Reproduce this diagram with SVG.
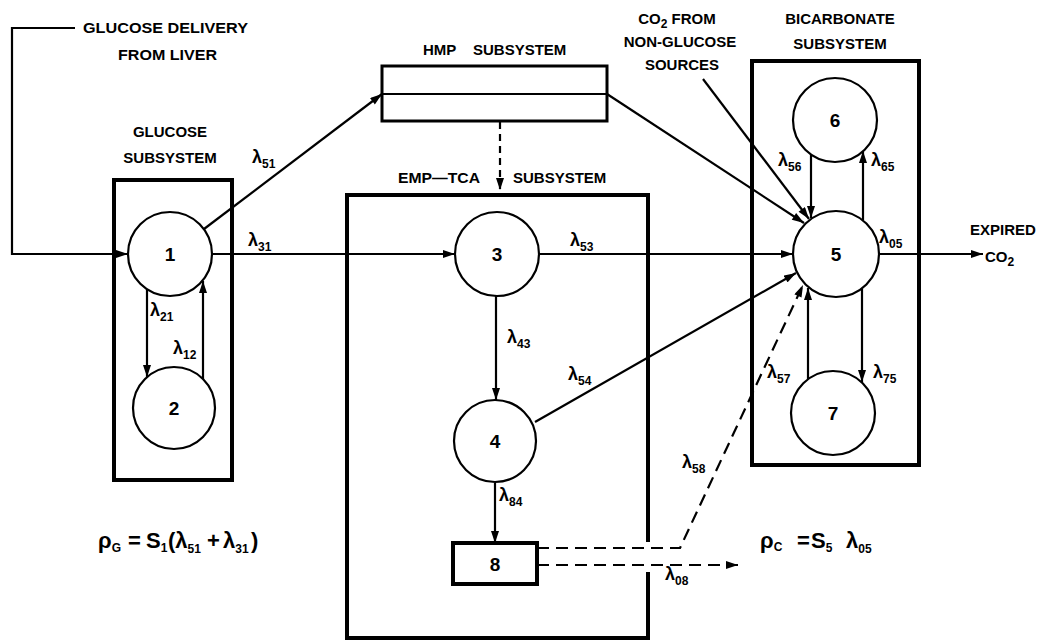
<svg xmlns="http://www.w3.org/2000/svg" width="1037" height="640" viewBox="0 0 1037 640">
<defs>
<marker id="ah" viewBox="0 0 12 8" refX="12" refY="4" markerWidth="13" markerHeight="8" markerUnits="userSpaceOnUse" orient="auto"><path d="M0,0 L12,4 L0,8 Z" fill="#000"/></marker>
</defs>
<style>
text{font-family:"Liberation Sans",Arial,sans-serif;font-weight:bold;fill:#000}
.t{font-size:15px}
.n{font-size:19px;text-anchor:middle}
.l{font-size:18px}
.s{font-size:12px}
.f{font-size:22px}
.box{fill:none;stroke:#000;stroke-width:4}
.circ{fill:#fff;stroke:#000;stroke-width:2.2}
.c{fill:none;stroke:#000;stroke-width:2.2}
.d{fill:none;stroke:#000;stroke-width:2.2;stroke-dasharray:12 7}
.d2{fill:none;stroke:#000;stroke-width:2.2;stroke-dasharray:7 5}
</style>
<rect width="1037" height="640" fill="#fff"/>

<g id="subsystems">
<rect id="glucose-box" class="box" x="114" y="180" width="118" height="300"/>
<path id="emp-box" class="box" d="M648,542 V195 H347 V638 H648 V572"/>
<rect id="bicarb-box" class="box" x="752" y="61" width="167" height="404"/>
<g id="hmp"><rect class="box" style="stroke-width:3" x="382" y="66" width="225" height="55"/><line class="c" x1="382" y1="94" x2="607" y2="94"/></g>
</g>

<g id="connectors">
<path class="c" d="M75,28 H12 V254 H128" marker-end="url(#ah)"/>
<line class="c" x1="204" y1="229" x2="382" y2="94" marker-end="url(#ah)"/>
<line class="c" x1="212" y1="254" x2="455" y2="254" marker-end="url(#ah)"/>
<line class="c" x1="147" y1="289" x2="147" y2="377" marker-end="url(#ah)"/>
<line class="c" x1="203" y1="379" x2="203" y2="281" marker-end="url(#ah)"/>
<line class="c" x1="607" y1="94" x2="804" y2="223" marker-end="url(#ah)"/>
<line class="d2" x1="500" y1="122" x2="500" y2="190" marker-end="url(#ah)"/>
<line class="c" x1="539" y1="254" x2="793" y2="254" marker-end="url(#ah)"/>
<line class="c" x1="496" y1="296" x2="496" y2="400" marker-end="url(#ah)"/>
<line class="c" x1="535" y1="422" x2="796" y2="273" marker-end="url(#ah)"/>
<line class="c" x1="495" y1="483" x2="495" y2="543" marker-end="url(#ah)"/>
<path class="d" d="M537,548 H680 L803,285" marker-end="url(#ah)"/>
<path class="d" d="M537,565 H738" marker-end="url(#ah)"/>
<line class="c" x1="703" y1="79" x2="809" y2="219" marker-end="url(#ah)"/>
<line class="c" x1="811" y1="155" x2="811" y2="218" marker-end="url(#ah)"/>
<line class="c" x1="863" y1="220" x2="863" y2="151" marker-end="url(#ah)"/>
<line class="c" x1="808" y1="379" x2="808" y2="288" marker-end="url(#ah)"/>
<line class="c" x1="862" y1="288" x2="862" y2="382" marker-end="url(#ah)"/>
<line class="c" x1="879" y1="254" x2="983" y2="254" marker-end="url(#ah)"/>
</g>

<g id="node1"><circle class="circ" cx="170" cy="254" r="42"/><text class="n" x="170" y="261">1</text></g>
<g id="node2"><circle class="circ" cx="174" cy="408" r="41"/><text class="n" x="174" y="415">2</text></g>
<g id="node3"><circle class="circ" cx="497" cy="254" r="42"/><text class="n" x="497" y="261">3</text></g>
<g id="node4"><circle class="circ" cx="495" cy="441" r="41"/><text class="n" x="495" y="448">4</text></g>
<g id="node5"><circle class="circ" cx="836" cy="254" r="43"/><text class="n" x="836" y="261">5</text></g>
<g id="node6"><circle class="circ" cx="835" cy="120" r="42"/><text class="n" x="835" y="127">6</text></g>
<g id="node7"><circle class="circ" cx="833" cy="413" r="42"/><text class="n" x="833" y="420">7</text></g>
<g id="node8"><rect class="box" x="453" y="543" width="84" height="41"/><text class="n" x="495" y="571">8</text></g>

<g id="labels">
<text class="t" x="83" y="33" textLength="165" lengthAdjust="spacingAndGlyphs">GLUCOSE DELIVERY</text>
<text class="t" x="118" y="60" textLength="99" lengthAdjust="spacingAndGlyphs">FROM LIVER</text>
<text class="t" x="170" y="137" text-anchor="middle">GLUCOSE</text>
<text class="t" x="170" y="163" text-anchor="middle">SUBSYSTEM</text>
<text class="t" x="423" y="55">HMP</text>
<text class="t" x="473" y="55">SUBSYSTEM</text>
<text class="t" x="398" y="183" textLength="82" lengthAdjust="spacingAndGlyphs">EMP—TCA</text>
<text class="t" x="513" y="183">SUBSYSTEM</text>
<text class="t" x="677" y="24" text-anchor="middle">CO<tspan class="s" dy="4">2</tspan><tspan dy="-4"> FROM</tspan></text>
<text class="t" x="680" y="47" text-anchor="middle">NON-GLUCOSE</text>
<text class="t" x="682" y="70" text-anchor="middle">SOURCES</text>
<text class="t" x="840" y="24" text-anchor="middle">BICARBONATE</text>
<text class="t" x="840" y="49" text-anchor="middle">SUBSYSTEM</text>
<text class="t" x="970" y="235">EXPIRED</text>
<text class="t" x="985" y="262">CO<tspan class="s" dy="4">2</tspan></text>

<text class="l" x="252" y="163">λ<tspan class="s" dy="5">51</tspan></text>
<text class="l" x="248" y="246">λ<tspan class="s" dy="5">31</tspan></text>
<text class="l" x="150" y="316">λ<tspan class="s" dy="5">21</tspan></text>
<text class="l" x="173" y="354">λ<tspan class="s" dy="5">12</tspan></text>
<text class="l" x="570" y="246">λ<tspan class="s" dy="5">53</tspan></text>
<text class="l" x="507" y="343">λ<tspan class="s" dy="5">43</tspan></text>
<text class="l" x="568" y="380">λ<tspan class="s" dy="5">54</tspan></text>
<text class="l" x="499" y="501">λ<tspan class="s" dy="5">84</tspan></text>
<text class="l" x="682" y="468">λ<tspan class="s" dy="5">58</tspan></text>
<text class="l" x="665" y="580">λ<tspan class="s" dy="5">08</tspan></text>
<text class="l" x="778" y="166">λ<tspan class="s" dy="5">56</tspan></text>
<text class="l" x="871" y="166">λ<tspan class="s" dy="5">65</tspan></text>
<text class="l" x="767" y="378">λ<tspan class="s" dy="5">57</tspan></text>
<text class="l" x="873" y="378">λ<tspan class="s" dy="5">75</tspan></text>
<text class="l" x="879" y="243">λ<tspan class="s" dy="5">05</tspan></text>

<text class="f" x="98" y="548">ρ<tspan class="s" dy="4">G</tspan><tspan x="128" y="548">=</tspan><tspan x="146" y="548">S</tspan><tspan class="s" dy="4">1</tspan><tspan x="168" y="548">(λ</tspan><tspan class="s" dy="5">51</tspan><tspan x="207" y="548">+</tspan><tspan x="223" y="548">λ</tspan><tspan class="s" dy="5">31</tspan><tspan x="251" y="548">)</tspan></text>
<text class="f" x="760" y="548">ρ<tspan class="s" dy="3">C</tspan><tspan x="797" y="548">=</tspan><tspan x="811" y="548">S</tspan><tspan class="s" dy="4">5</tspan><tspan x="846" y="548">λ</tspan><tspan class="s" dy="5">05</tspan></text>
</g>
</svg>
